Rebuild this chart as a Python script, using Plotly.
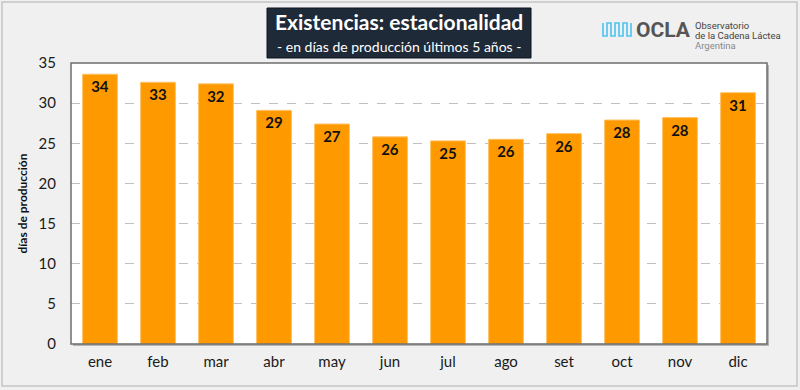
import plotly.graph_objects as go

months = ["ene", "feb", "mar", "abr", "may", "jun", "jul", "ago", "set", "oct", "nov", "dic"]
dias = [33.6, 32.6, 32.4, 29.1, 27.4, 25.8, 25.3, 25.5, 26.2, 27.9, 28.2, 31.3]
etiquetas = ["34", "33", "32", "29", "27", "26", "25", "26", "26", "28", "28", "31"]
y_ticks = [0, 5, 10, 15, 20, 25, 30, 35]

W, H = 800, 390
L, R, T, B = 71, 767, 63, 344
FONT = "Lato"


def px(x):
    return (x - L) / (R - L)


def py(y):
    return (B - y) / (B - T)


fig = go.Figure()
fig.add_trace(go.Bar(
    x=months, y=dias, text=etiquetas, textposition="inside",
    insidetextanchor="end",
    textfont=dict(family=FONT, size=15, color="#111111", weight="bold"),
    marker=dict(color="#FF9900", line=dict(color="#FFC266", width=1)),
    cliponaxis=False,
))

shapes = [
    # outer border
    dict(type="rect", xref="paper", yref="paper", x0=px(2), x1=px(797), y0=py(386), y1=py(2),
         line=dict(color="#c4c4c4", width=1.5), layer="below"),
    # shadow of plot frame
    dict(type="rect", xref="paper", yref="paper", x0=px(L + 2), x1=px(R + 2), y0=py(B + 2), y1=py(T + 2),
         line=dict(width=0), fillcolor="#b4b4b4", layer="below"),
    # plot background
    dict(type="rect", xref="paper", yref="paper", x0=0, x1=1, y0=0, y1=1,
         line=dict(width=0), fillcolor="white", layer="below"),
    # plot frame
    dict(type="rect", xref="paper", yref="paper", x0=0, x1=1, y0=0, y1=1,
         line=dict(color="#6e6e6e", width=1.5), layer="above"),
    # title box
    dict(type="rect", xref="paper", yref="paper", x0=px(267), x1=px(531), y0=py(58), y1=py(8),
         line=dict(color="#0d1520", width=1), fillcolor="#1f2a38"),
]

# logo wave icon
seq = [(603, 23), (603, 36), (607, 36), (607, 23), (611, 23), (611, 36), (615, 36), (615, 23),
       (619, 23), (619, 36), (623, 36), (623, 23), (627, 23), (627, 36), (631, 36), (631, 23)]
path = "M " + " L ".join(f"{px(a):.5f},{py(b):.5f}" for a, b in seq)
shapes.append(dict(type="path", xref="paper", yref="paper", path=path,
                   line=dict(color="#4fc3f0", width=1.6)))

annotations = [
    dict(text="<b>Existencias: estacionalidad</b>", xref="paper", yref="paper",
         x=px(399), y=py(22), showarrow=False, xanchor="center", yanchor="middle",
         font=dict(family=FONT, size=21, color="white")),
    dict(text="- en días de producción últimos 5 años -", xref="paper", yref="paper",
         x=px(399), y=py(47), showarrow=False, xanchor="center", yanchor="middle",
         font=dict(family=FONT, size=14, color="white")),
    dict(text="<b>OCLA</b>", xref="paper", yref="paper",
         x=px(634), y=py(30), showarrow=False, xanchor="left", yanchor="middle",
         font=dict(family="Roboto", size=21, color="#555555")),
    dict(text="Observatorio", xref="paper", yref="paper",
         x=px(693), y=py(25), showarrow=False, xanchor="left", yanchor="middle", align="left",
         font=dict(family="Roboto", size=9.5, color="#444444")),
    dict(text="de la Cadena Láctea", xref="paper", yref="paper",
         x=px(693), y=py(35), showarrow=False, xanchor="left", yanchor="middle", align="left",
         font=dict(family="Roboto", size=9.5, color="#444444")),
    dict(text="Argentina", xref="paper", yref="paper",
         x=px(693), y=py(45), showarrow=False, xanchor="left", yanchor="middle", align="left",
         font=dict(family="Roboto", size=9.5, color="#888888")),
]

fig.update_layout(
    width=W, height=H,
    margin=dict(l=L, r=W - R, t=T, b=H - B, pad=0),
    paper_bgcolor="#f0f0f0", plot_bgcolor="rgba(0,0,0,0)",
    bargap=0.4, showlegend=False,
    shapes=shapes, annotations=annotations,
    font=dict(family=FONT, size=15, color="#1a1a1a"),
    xaxis=dict(showgrid=False, ticks="", tickfont=dict(size=15), showline=False,
               ticklabelstandoff=7),
    yaxis=dict(range=[0, 35], tickvals=y_ticks, showgrid=True, gridcolor="#c0c0c0",
               griddash="dash", gridwidth=1, zeroline=False, showline=False,
               tickfont=dict(size=15), ticklabelstandoff=14,
               title=dict(text="<b>días de producción</b>", font=dict(size=12, color="#111111"),
                          standoff=8)),
)

fig.write_html("out.html", config={"displayModeBar": False},
               post_script="document.body.style.margin='0';")
